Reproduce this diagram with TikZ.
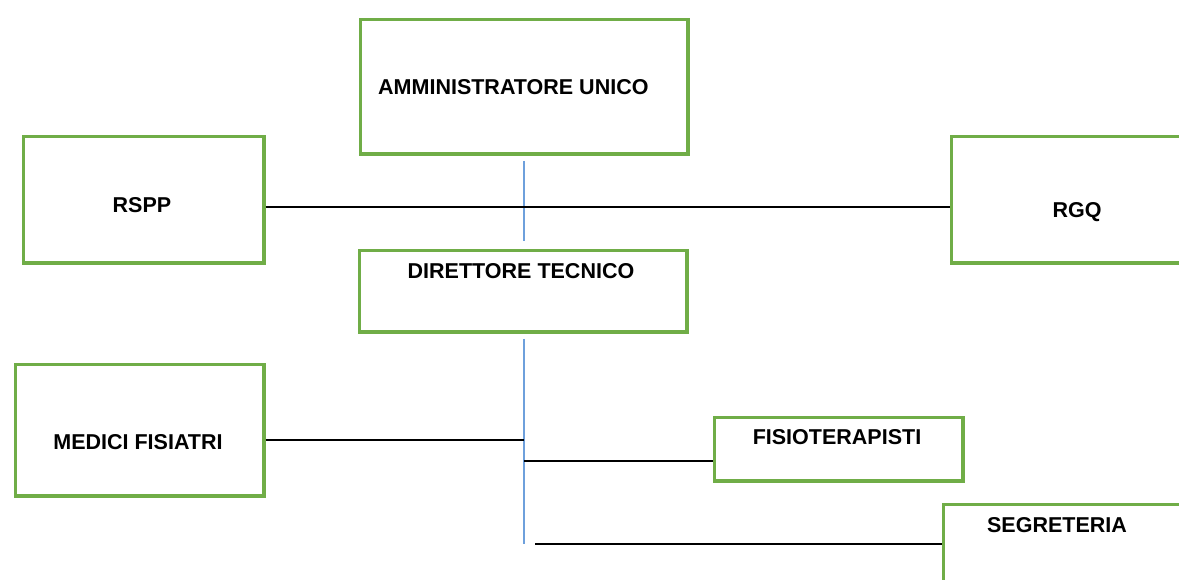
\documentclass[tikz,border=0pt]{standalone}
\usepackage{fontspec}
\setmainfont{Liberation Sans}
\begin{document}
\begin{tikzpicture}[x=1pt,y=-1pt,
  box/.style={draw=boxgreen,line width=3.2pt,rectangle,inner sep=0pt,anchor=north west},
  lbl/.style={font=\fontsize{21.5}{25}\selectfont\bfseries,inner sep=0pt},
  link/.style={draw=black,line width=2pt},
  spine/.style={draw=spineblue,line width=2pt}]
\definecolor{boxgreen}{RGB}{112,173,71}
\definecolor{spineblue}{RGB}{110,160,220}
\useasboundingbox (0,0) rectangle (1179,580);
\clip (0,0) rectangle (1179,580);

% boxes (corner = outer edge + half the line width)
\node[box,minimum width=327.8pt,minimum height=134.8pt] (amm) at (358.6,17.6) {};
\node[box,minimum width=240.8pt,minimum height=126.8pt] (rspp) at (21.6,134.6) {};
\node[box,minimum width=240pt,minimum height=126.8pt] (rgq) at (949.6,134.6) {};
\node[box,minimum width=327.8pt,minimum height=81.8pt] (dir) at (357.6,248.6) {};
\node[box,minimum width=248.8pt,minimum height=131.8pt] (med) at (13.6,362.6) {};
\node[box,minimum width=248.8pt,minimum height=63.8pt] (fis) at (712.6,415.6) {};
\node[box,minimum width=245pt,minimum height=100pt] (seg) at (941.6,502.6) {};

% labels
\node[lbl,anchor=west] (tamm) at (378,87) {AMMINISTRATORE UNICO};
\node[lbl] (trspp) at (142,205) {RSPP};
\node[lbl] (trgq) at (1077,212) {RGQ};
\node[lbl] (tdir) at (521,271) {DIRETTORE TECNICO};
\node[lbl] (tmed) at (138,442) {MEDICI FISIATRI};
\node[lbl] (tfis) at (837,437) {FISIOTERAPISTI};
\node[lbl] (tseg) at (1057,525) {SEGRETERIA};

% vertical spine
\coordinate (s1) at (523.5,161);
\coordinate (s2) at (523.5,241);
\coordinate (s3) at (523.5,339);
\coordinate (s4) at (523.5,544);
\draw[spine] (s1) -- (s2);
\draw[spine] (s3) -- (s4);

% horizontal links
\draw[link] (rspp.east |- 0,207) -- (rgq.west |- 0,207);
\coordinate (jm) at (523.5,440);
\draw[link] (med.east |- jm) -- (jm);
\coordinate (jf) at (524,461);
\draw[link] (jf) -- (fis.west |- jf);
\coordinate (js) at (535,544);
\draw[link] (js) -- (seg.west |- js);
\end{tikzpicture}
\end{document}
